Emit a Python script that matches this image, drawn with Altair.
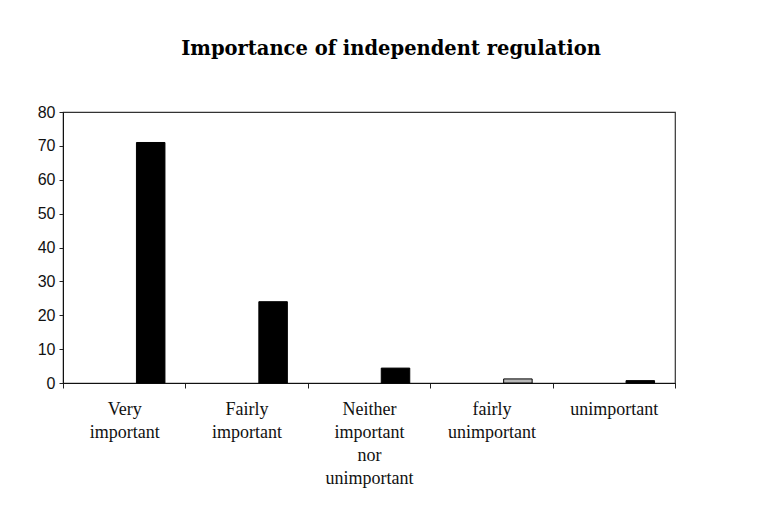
import altair as alt
import pandas as pd

categories = [
    "Very important",
    "Fairly important",
    "Neither important nor unimportant",
    "fairly unimportant",
    "unimportant",
]
values = [71.0, 24.0, 4.4, 1.2, 0.7]
fills = ["#000000", "#000000", "#000000", "#b8b8b8", "#000000"]
y_ticks = [0, 10, 20, 30, 40, 50, 60, 70, 80]

df = pd.DataFrame({"category": categories, "value": values})

chart = (
    alt.Chart(df)
    .mark_bar(width=28.5, xOffset=26.5, stroke="#000000", strokeWidth=1)
    .encode(
        x=alt.X(
            "category:N",
            sort=categories,
            scale=alt.Scale(domain=categories, paddingInner=0, paddingOuter=0),
            axis=alt.Axis(
                title=None,
                labelAngle=0,
                labelExpr="split(datum.label, ' ')",
                labelFont="Liberation Serif",
                labelFontSize=18,
                labelLineHeight=23,
                labelColor="#111111",
                labelPadding=12,
                labelBaseline="top",
                tickBand="extent",
                tickSize=5,
                tickColor="#222222",
                domainColor="#111111",
                labelLimit=200,
            ),
        ),
        y=alt.Y(
            "value:Q",
            scale=alt.Scale(domain=[0, 80], nice=False),
            axis=alt.Axis(
                title=None,
                values=y_ticks,
                grid=False,
                labelFont="Liberation Sans",
                labelFontSize=16,
                labelColor="#111111",
                labelPadding=4,
                tickSize=4,
                tickColor="#222222",
                domainColor="#111111",
            ),
        ),
        fill=alt.Fill(
            "category:N",
            scale=alt.Scale(domain=categories, range=fills),
            legend=None,
        ),
    )
    .properties(
        width=612,
        height=271,
        view=alt.ViewBackground(stroke="#333333", strokeWidth=1.2, fill="#ffffff"),
        title=alt.TitleParams(
            "Importance of independent regulation",
            font="DejaVu Serif",
            fontSize=19.5,
            fontWeight="bold",
            color="#000000",
            anchor="middle",
            baseline="alphabetic",
            dx=22,
            offset=30,
        ),
        autosize=alt.AutoSizeParams(type="none"),
        padding={"left": 55, "top": 104, "right": 85, "bottom": 130},
    )
    .configure(background="#ffffff")
)

chart.save("out.html", embed_options={"renderer": "svg", "actions": False})
